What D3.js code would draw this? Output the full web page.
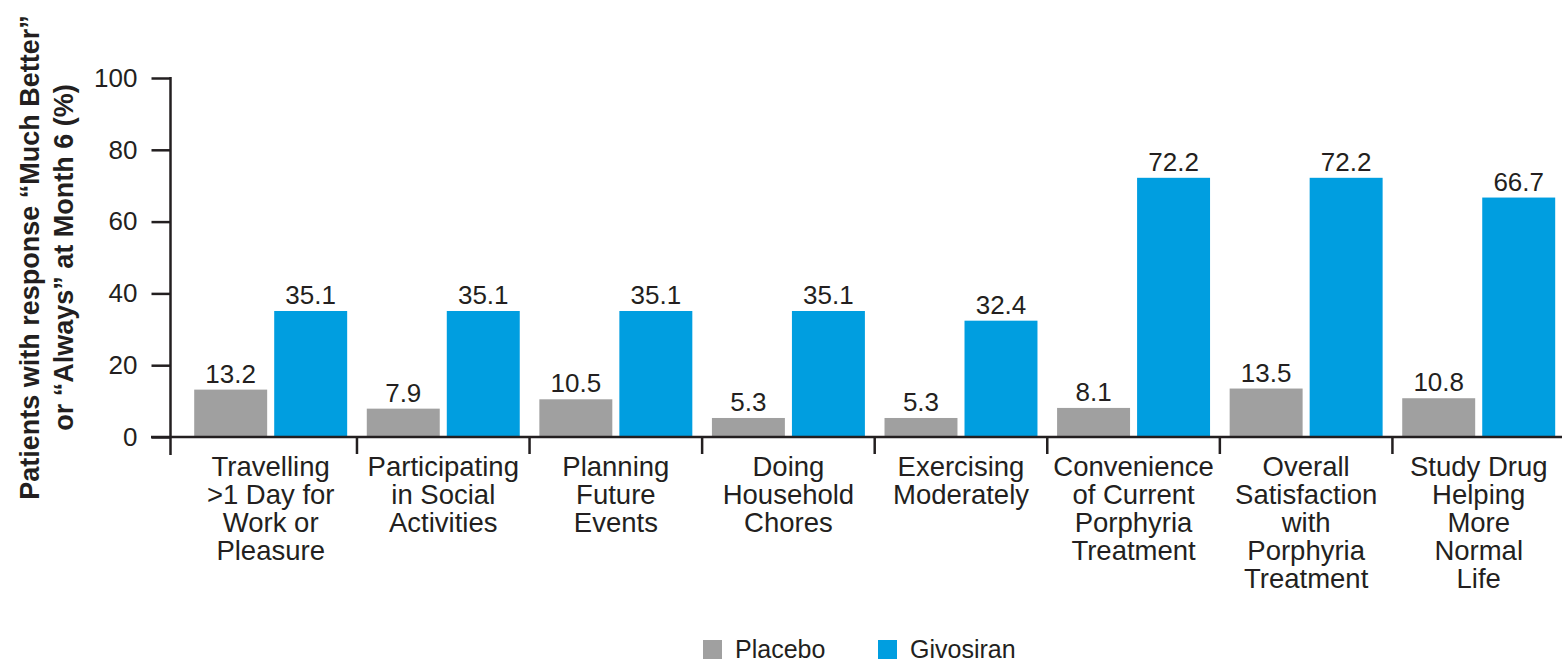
<!DOCTYPE html>
<html>
<head>
<meta charset="utf-8">
<script src="https://cdn.jsdelivr.net/npm/d3@7"></script>
<style>
  html, body { margin: 0; padding: 0; background: #ffffff; }
  svg { display: block; font-family: "Liberation Sans", Arial, Helvetica, sans-serif; }
</style>
</head>
<body>
<svg id="chart" width="1562" height="663"></svg>
<script>
// Category labels, one entry per line of each label
const categories = [
  ["Travelling", ">1 Day for", "Work or", "Pleasure"],
  ["Participating", "in Social", "Activities"],
  ["Planning", "Future", "Events"],
  ["Doing", "Household", "Chores"],
  ["Exercising", "Moderately"],
  ["Convenience", "of Current", "Porphyria", "Treatment"],
  ["Overall", "Satisfaction", "with", "Porphyria", "Treatment"],
  ["Study Drug", "Helping", "More", "Normal", "Life"]
];
const seriesNames = ["Placebo", "Givosiran"];
const placebo   = [13.2, 7.9, 10.5, 5.3, 5.3, 8.1, 13.5, 10.8];
const givosiran = [35.1, 35.1, 35.1, 35.1, 32.4, 72.2, 72.2, 66.7];
const yTicks = [0, 20, 40, 60, 80, 100];
const yTitle = ["Patients with response \u201cMuch Better\u201d", "or \u201cAlways\u201d at Month 6 (%)"];

const colors = { Placebo: "#a0a0a0", Givosiran: "#009ee0" };
const ink = "#231f20";
const font = "'Liberation Sans', Arial, sans-serif";

const svg = d3.select("#chart");
const catKeys = categories.map(c => c.join(" "));
const rows = catKeys.map((k, i) => ({ key: k, lines: categories[i], Placebo: placebo[i], Givosiran: givosiran[i] }));

const axisX = 170.5, baseY = 437;

const y = d3.scaleLinear().domain([0, 100]).range([baseY, 78]);

const x0 = d3.scaleBand().domain(catKeys).range([184.4, 1565])
  .paddingInner(0.1136).paddingOuter(0.0568);
const x1 = d3.scaleBand().domain(seriesNames).range([0, x0.bandwidth()])
  .paddingInner(0.088);

// Bars
const groups = svg.append("g").selectAll("g").data(rows).join("g")
  .attr("transform", d => `translate(${x0(d.key)},0)`);

groups.selectAll("rect").data(d => seriesNames.map(s => ({ s, v: d[s] }))).join("rect")
  .attr("x", d => x1(d.s))
  .attr("y", d => y(d.v))
  .attr("width", x1.bandwidth())
  .attr("height", d => y(0) - y(d.v))
  .attr("fill", d => colors[d.s]);

// Value labels
groups.selectAll("text.val").data(d => seriesNames.map(s => ({ s, v: d[s] }))).join("text")
  .attr("class", "val")
  .attr("x", d => x1(d.s) + x1.bandwidth() / 2)
  .attr("y", d => y(d.v) - 7)
  .attr("text-anchor", "middle")
  .attr("font-size", 26)
  .attr("fill", ink)
  .text(d => d.v.toFixed(1));

// Y axis
const yAxis = svg.append("g").attr("transform", `translate(${axisX},0)`)
  .call(d3.axisLeft(y).tickValues(yTicks).tickSize(19).tickPadding(14).tickSizeOuter(0));
yAxis.select(".domain").remove();
yAxis.selectAll(".tick line").attr("stroke", ink).attr("stroke-width", 2.5);
yAxis.selectAll(".tick text").attr("font-size", 26).attr("fill", ink).attr("font-family", font);
svg.append("line").attr("x1", axisX).attr("x2", axisX).attr("y1", y(100) - 1).attr("y2", 455)
  .attr("stroke", ink).attr("stroke-width", 2.5);

// X axis baseline
svg.append("line").attr("x1", 151).attr("x2", 1562).attr("y1", baseY).attr("y2", baseY)
  .attr("stroke", ink).attr("stroke-width", 2.5);

// Category separators
const step = x0.step();
const seps = d3.range(1, categories.length + 1).map(i => x0.range()[0] + i * step);
svg.append("g").selectAll("line").data(seps).join("line")
  .attr("x1", d => d).attr("x2", d => d).attr("y1", baseY).attr("y2", 454)
  .attr("stroke", ink).attr("stroke-width", 2.5);

// Category labels
const xAxis = svg.append("g").attr("transform", `translate(0,${baseY})`)
  .call(d3.axisBottom(x0).tickSize(0).tickPadding(0));
xAxis.select(".domain").remove();
xAxis.selectAll(".tick text").each(function (k) {
  const lines = categories[catKeys.indexOf(k)];
  const t = d3.select(this).text(null)
    .attr("y", 0).attr("dy", null)
    .attr("font-size", 27.5).attr("fill", ink)
    .attr("font-family", font)
    .attr("text-anchor", "middle");
  lines.forEach((ln, i) => {
    t.append("tspan").attr("x", 0).attr("y", 39 + i * 28).text(ln);
  });
});

// Y axis title
const midY = (y(0) + y(100)) / 2;
const title = svg.append("text")
  .attr("transform", `translate(0,${midY}) rotate(-90)`)
  .attr("text-anchor", "middle")
  .attr("font-size", 27).attr("font-weight", "bold").attr("fill", ink);
yTitle.forEach((ln, i) => {
  title.append("tspan").attr("x", 0).attr("y", 39 + i * 33.5).text(ln);
});

// Legend
const legend = svg.append("g").selectAll("g").data(seriesNames).join("g")
  .attr("transform", (d, i) => `translate(${[703, 878][i]},640)`);
legend.append("rect").attr("width", 19).attr("height", 19).attr("fill", d => colors[d]);
legend.append("text").attr("x", 32).attr("y", 18)
  .attr("font-size", 25).attr("fill", ink).text(d => d);
</script>
</body>
</html>
